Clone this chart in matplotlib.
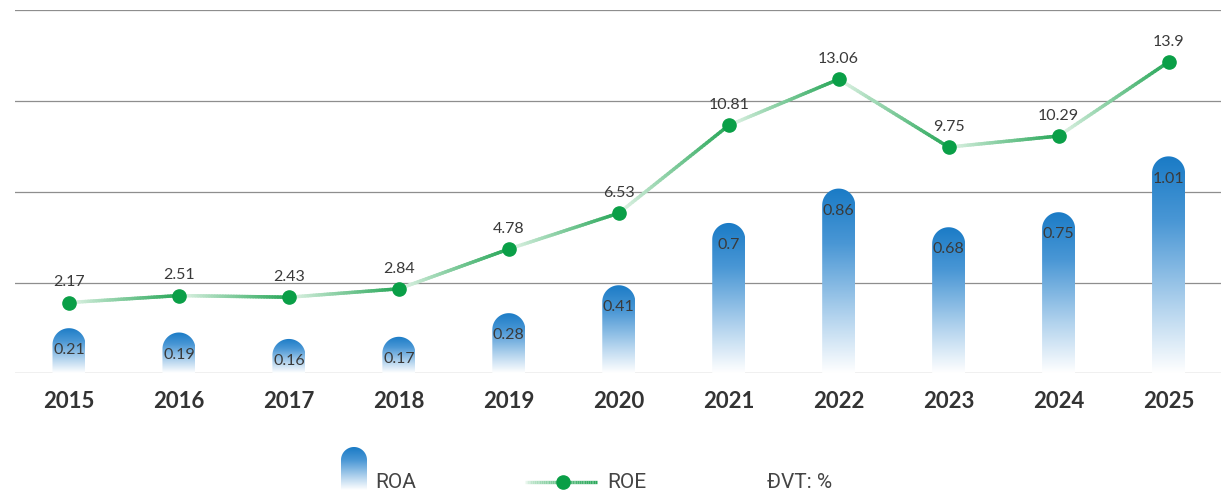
import matplotlib
matplotlib.use("Agg")
import matplotlib.pyplot as plt
import numpy as np
from matplotlib.path import Path
from matplotlib.patches import PathPatch
from matplotlib.collections import LineCollection
from matplotlib.colors import LinearSegmentedColormap, to_rgb

years = ["2015", "2016", "2017", "2018", "2019", "2020", "2021", "2022", "2023", "2024", "2025"]
roa = [0.21, 0.19, 0.16, 0.17, 0.28, 0.41, 0.7, 0.86, 0.68, 0.75, 1.01]
roe = [2.17, 2.51, 2.43, 2.84, 4.78, 6.53, 10.81, 13.06, 9.75, 10.29, 13.9]

W, H = 1221, 496
fig = plt.figure(figsize=(W / 100, H / 100), dpi=100)

# axes box in pixels
ax_l, ax_r, ax_t, ax_b = 15, 1221, 10.3, 373.3
ax = fig.add_axes([ax_l / W, (H - ax_b) / H, (ax_r - ax_l) / W, (ax_b - ax_t) / H])
ax2 = ax.twinx()

x = np.arange(len(years))
xlim = (-0.491, len(years) - 1 + 0.477)
roa_lim = (0, 1.69)
roe_lim = (-1.28, 16.42)

blue_cmap = LinearSegmentedColormap.from_list(
    "bar", [(0, "#ffffff"), (0.3, "#b4d4ee"), (0.7, "#4a97d5"), (1, "#1a7bc6")])
grad = np.linspace(0, 1, 256).reshape(-1, 1)


def rounded_bar(axis, cx, h, w, ry, zorder=2):
    rx = w / 2
    ry = min(ry, h)
    cy = h - ry
    th = np.linspace(0, np.pi, 50)
    verts = [(cx + rx, 0), (cx + rx, cy)]
    verts += list(zip(cx + rx * np.cos(th), cy + ry * np.sin(th)))
    verts += [(cx - rx, 0), (cx + rx, 0)]
    patch = PathPatch(Path(verts), facecolor="none", edgecolor="none")
    axis.add_patch(patch)
    im = axis.imshow(grad, extent=(cx - rx, cx + rx, 0, h), origin="lower",
                     aspect="auto", cmap=blue_cmap, zorder=zorder)
    im.set_clip_path(patch)


def rounded_bar_px(axis, cx, top, bottom, w):
    # pixel-coordinate version (y axis inverted) for legend
    r = w / 2
    th = np.linspace(np.pi, 2 * np.pi, 50)
    verts = [(cx - r, bottom), (cx - r, top + r)]
    verts += list(zip(cx + r * np.cos(th), top + r + r * np.sin(th)))
    verts += [(cx + r, bottom), (cx - r, bottom)]
    patch = PathPatch(Path(verts), facecolor="none", edgecolor="none")
    axis.add_patch(patch)
    im = axis.imshow(grad, extent=(cx - r, cx + r, bottom, top), origin="lower",
                     aspect="auto", cmap=blue_cmap, zorder=2)
    im.set_clip_path(patch)


# bars (ROA)
bar_w = 0.3
px_x = (ax_r - ax_l) / (xlim[1] - xlim[0])
px_y = (ax_b - ax_t) / (roa_lim[1] - roa_lim[0])
ry = (bar_w / 2) * px_x / px_y
for xi, v in zip(x, roa):
    rounded_bar(ax, xi, v, bar_w, ry)
    ax.annotate(f"{v:g}", (xi, v), xytext=(0, -16), textcoords="offset points",
                ha="center", va="center", fontsize=11.5, color="#3a3a3a",
                family="Lato", zorder=5)

ax.set_xlim(*xlim)
ax.set_ylim(*roa_lim)
ax.set_yticks(np.linspace(roa_lim[0], roa_lim[1], 5))
ax.yaxis.grid(True, color="#8e8e8e", lw=0.9)
ax.set_axisbelow(True)
ax.set_xticks(x, years)
ax.tick_params(axis="x", length=0, pad=13, labelsize=16, labelcolor="#333333")
for t in ax.get_xticklabels():
    t.set_fontweight("bold")
    t.set_family("Lato")
ax.tick_params(axis="y", length=0, labelleft=False)
for s in ax.spines.values():
    s.set_visible(False)

# line (ROE) with per-segment gradient
light = np.array(to_rgb("#e8f6ec"))
dark = np.array(to_rgb("#2aa85a"))
segs, cols = [], []
for i in range(len(roe) - 1):
    xs = np.linspace(x[i], x[i + 1], 41)
    ys = np.linspace(roe[i], roe[i + 1], 41)
    for j in range(40):
        f = (j / 39) ** 0.9
        segs.append([(xs[j], ys[j]), (xs[j + 1], ys[j + 1])])
        cols.append(light * (1 - f) + dark * f)
lc = LineCollection(segs, colors=cols, linewidths=2.5, capstyle="round", zorder=3)
ax2.add_collection(lc)
ax2.plot(x, roe, linestyle="none", marker="o", markersize=9.5, color="#0a9f47", zorder=4)
for xi, v in zip(x, roe):
    ax2.annotate(f"{v:g}", (xi, v), xytext=(0, 14.5), textcoords="offset points",
                 ha="center", va="center", fontsize=11.5, color="#3a3a3a", family="Lato")
ax2.set_ylim(*roe_lim)
ax2.set_xlim(*xlim)
ax2.set_yticks([])
for s in ax2.spines.values():
    s.set_visible(False)

# legend drawn in pixel space
ov = fig.add_axes([0, 0, 1, 1], zorder=10)
ov.set_xlim(0, W)
ov.set_ylim(H, 0)
ov.axis("off")
ov.patch.set_alpha(0)
rounded_bar_px(ov, 354, 447, 490, 26)
ov.text(375, 482, "ROA", fontsize=15, color="#444444", va="center", ha="left", family="Roboto")
lx = np.linspace(525, 597, 41)
lsegs = [[(lx[j], 482), (lx[j + 1], 482)] for j in range(40)]
lcols = [light * (1 - (j / 39) ** 0.6) + dark * (j / 39) ** 0.6 for j in range(40)]
ov.add_collection(LineCollection(lsegs, colors=lcols, linewidths=2.4))
ov.plot([563], [482], marker="o", markersize=9.5, color="#0a9f47")
ov.text(607, 482, "ROE", fontsize=15, color="#444444", va="center", ha="left", family="Roboto")
ov.text(767, 482, "ĐVT: %", fontsize=15, color="#444444", va="center", ha="left", family="Roboto")

fig.savefig("out.png", dpi=100)
